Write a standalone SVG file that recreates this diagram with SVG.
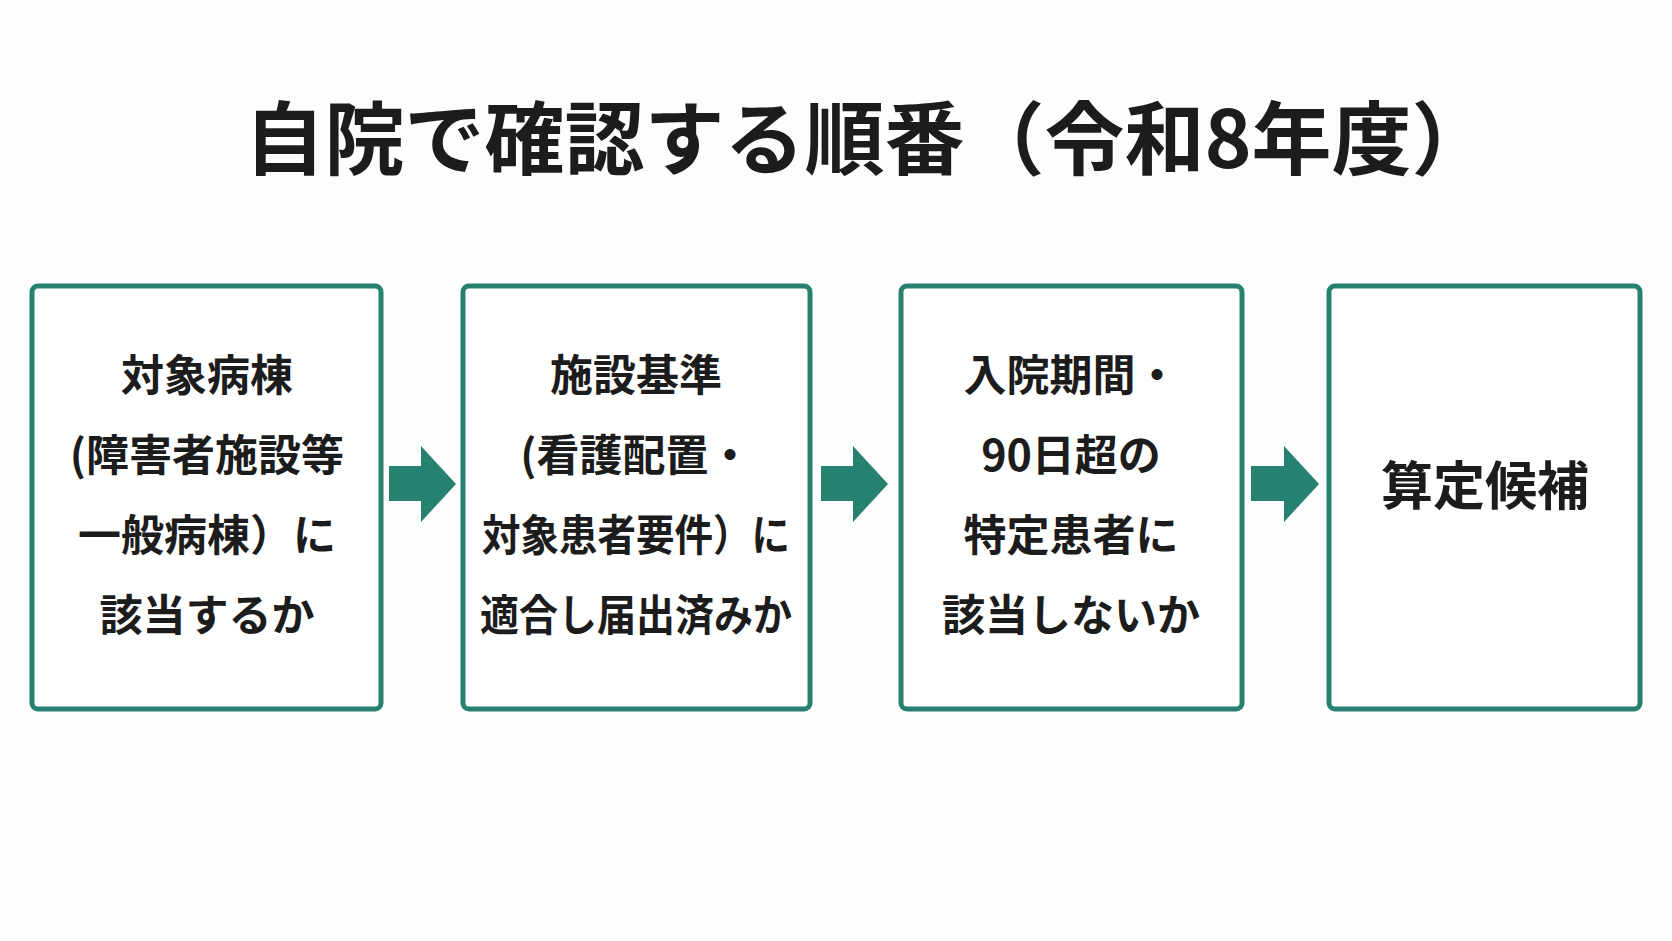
<svg xmlns="http://www.w3.org/2000/svg" width="1672" height="941" viewBox="0 0 1672 941">
<style>
.box{fill:#fff;stroke:#268170;stroke-width:5}
.t{font-family:"Noto Sans CJK JP","Noto Sans",sans-serif;font-weight:bold;fill:#1c1c1c;text-anchor:middle}
.b{font-size:43px}
.arr{fill:#268170}
</style>
<rect width="1672" height="941" fill="#fdfdfd"/>
<text class="t" x="868" y="168" font-size="80">自院で確認する順番（令和8年度）</text>
<g id="connectors">
<polygon class="arr" points="389,466 421,466 421,446 456,484 421,522 421,501 389,501"/>
<polygon class="arr" points="821,466 853,466 853,446 888,484 853,522 853,501 821,501"/>
<polygon class="arr" points="1251,466 1284,466 1284,446 1319,484 1284,522 1284,501 1251,501"/>
</g>
<g id="n1"><rect class="box" x="32" y="286" width="349" height="423" rx="6"/>
<text class="t b" x="207" y="391">対象病棟</text><text class="t b" x="207" y="471">(障害者施設等</text><text class="t b" x="207" y="551">一般病棟）に</text><text class="t b" x="207" y="631">該当するか</text></g>
<g id="n2"><rect class="box" x="463" y="286" width="347" height="423" rx="6"/>
<text class="t b" x="636" y="391">施設基準</text><text class="t b" x="636" y="471">(看護配置・</text><text class="t b" x="636" y="551" textLength="308" lengthAdjust="spacingAndGlyphs">対象患者要件）に</text><text class="t b" x="636" y="631" textLength="312" lengthAdjust="spacingAndGlyphs">適合し届出済みか</text></g>
<g id="n3"><rect class="box" x="901" y="286" width="341" height="423" rx="6"/>
<text class="t b" x="1071" y="391">入院期間・</text><text class="t b" x="1071" y="471">90日超の</text><text class="t b" x="1071" y="551">特定患者に</text><text class="t b" x="1071" y="631">該当しないか</text></g>
<g id="n4"><rect class="box" x="1329" y="286" width="311" height="423" rx="6"/>
<text class="t" x="1485" y="505" font-size="52">算定候補</text></g>
</svg>
